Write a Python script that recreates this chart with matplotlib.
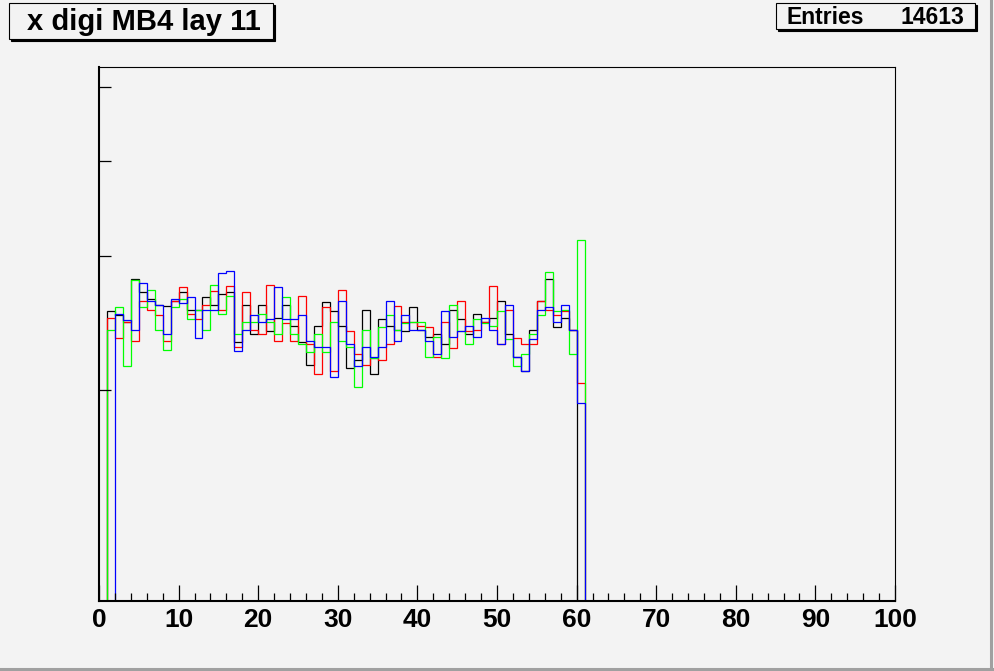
import numpy as np
import matplotlib
matplotlib.use("Agg")
import matplotlib.pyplot as plt
from matplotlib.patches import Rectangle
from matplotlib.ticker import FixedLocator, MultipleLocator, NullLocator, NullFormatter

# Histogram contents, bins [1,2] ... [60,61] (all other bins are empty)
black = [254, 251, 246, 280, 269, 263, 259, 258, 262, 269,
         255, 255, 265, 259, 267, 269, 231, 259, 237, 259,
         239, 249, 259, 243, 231, 216, 243, 261, 254, 243,
         214, 219, 255, 210, 248, 243, 240, 239, 257, 240,
         235, 237, 230, 255, 248, 237, 252, 246, 249, 262,
         237, 221, 212, 240, 262, 280, 242, 249, 240, 0]
red = [249, 234, 246, 232, 262, 255, 251, 232, 262, 273,
       252, 248, 259, 270, 255, 274, 228, 269, 240, 237,
       275, 232, 245, 232, 266, 230, 210, 257, 212, 271,
       239, 223, 216, 220, 219, 230, 258, 246, 246, 243,
       242, 221, 246, 227, 262, 239, 240, 246, 274, 230,
       255, 234, 230, 230, 262, 255, 251, 254, 240, 204]
green = [240, 257, 215, 279, 257, 271, 240, 226, 257, 263,
         248, 255, 240, 275, 252, 266, 237, 246, 246, 252,
         246, 237, 265, 237, 230, 224, 237, 224, 246, 232,
         228, 202, 240, 220, 242, 251, 240, 245, 246, 246,
         221, 235, 220, 259, 239, 230, 248, 245, 243, 254,
         233, 215, 223, 237, 251, 286, 254, 255, 223, 315]
blue = [0, 252, 247, 240, 276, 262, 259, 237, 263, 260,
        265, 234, 255, 255, 285, 287, 225, 240, 251, 246,
        248, 273, 248, 248, 251, 232, 228, 228, 208, 262,
        230, 215, 228, 221, 228, 262, 232, 251, 240, 240,
        232, 223, 254, 235, 239, 243, 235, 249, 240, 230,
        259, 221, 212, 233, 255, 257, 246, 259, 240, 192]

first_bin = 1
nbins = 100
title = "x digi MB4 lay 11"
entries = 14613
ylo, yhi = 105.6, 531.4
bg = "#f3f3f3"

W, H = 995, 671
fig = plt.figure(figsize=(W / 100, H / 100), dpi=100, facecolor=bg)
ax = fig.add_axes([99 / W, (H - 601) / H, (895 - 99) / W, (601 - 67) / H])
ax.set_facecolor(bg)

edges = np.arange(nbins + 1)
for vals, col in [(black, "black"), (red, "#ff0000"), (green, "#00ff00"), (blue, "#0000ff")]:
    full = np.zeros(nbins)
    full[first_bin:first_bin + len(vals)] = vals
    full = np.clip(full, ylo, None)
    ax.stairs(full, edges, baseline=None, color=col, lw=0.9)

ax.set_yscale("log")
ax.set_xlim(0, 100)
ax.set_ylim(ylo, yhi)

ax.yaxis.set_major_locator(FixedLocator([200, 300, 400, 500]))
ax.yaxis.set_minor_locator(NullLocator())
ax.yaxis.set_major_formatter(NullFormatter())
ax.yaxis.set_minor_formatter(NullFormatter())
ax.xaxis.set_major_locator(MultipleLocator(10))
ax.xaxis.set_minor_locator(MultipleLocator(2))

ax.tick_params(axis="y", which="major", direction="in", length=8.6, width=0.9)
ax.tick_params(axis="x", which="major", direction="in", length=11.5, width=0.9, pad=5)
ax.tick_params(axis="x", which="minor", direction="in", length=5.8, width=0.9)
for lab in ax.get_xticklabels():
    lab.set_fontfamily("Liberation Sans")
    lab.set_fontweight("bold")
    lab.set_fontsize(19)

ax.spines["left"].set_linewidth(1.5)
ax.spines["bottom"].set_linewidth(1.5)
ax.spines["top"].set_linewidth(0.8)
ax.spines["right"].set_linewidth(0.8)


def px_box(x0, y0, x1, y1):
    # ROOT-style pave with a drop shadow, coordinates in pixels from top-left
    sh = Rectangle(((x0 + 2) / W, (H - y1 - 2) / H), (x1 - x0) / W, (y1 - y0) / H,
                   transform=fig.transFigure, facecolor="black", edgecolor="black", lw=0.8)
    bx = Rectangle((x0 / W, (H - y1) / H), (x1 - x0) / W, (y1 - y0) / H,
                   transform=fig.transFigure, facecolor=bg, edgecolor="black", lw=0.8)
    fig.patches.extend([sh, bx])


px_box(9, 3, 273, 39)
fig.text(27 / W, 1 - 22 / H, title, ha="left", va="center",
         fontfamily="Liberation Sans", fontweight="bold", fontsize=21)

px_box(776, 3, 975, 29)
fig.text(787 / W, 1 - 18 / H, "Entries", ha="left", va="center",
         fontfamily="Liberation Sans", fontweight="bold", fontsize=16.5)
fig.text(964 / W, 1 - 18 / H, str(entries), ha="right", va="center",
         fontfamily="Liberation Sans", fontweight="bold", fontsize=16.5)

# canvas bevel on the right and bottom
fig.add_artist(plt.Line2D([991.5 / W, 991.5 / W], [1 - 669 / H, 1], transform=fig.transFigure,
                          color="#a0a0a0", lw=2.2))
fig.add_artist(plt.Line2D([0, 993 / W], [1 - 668.5 / H, 1 - 668.5 / H], transform=fig.transFigure,
                          color="#a0a0a0", lw=2.2))

fig.savefig("out.png", dpi=100, facecolor=bg)
